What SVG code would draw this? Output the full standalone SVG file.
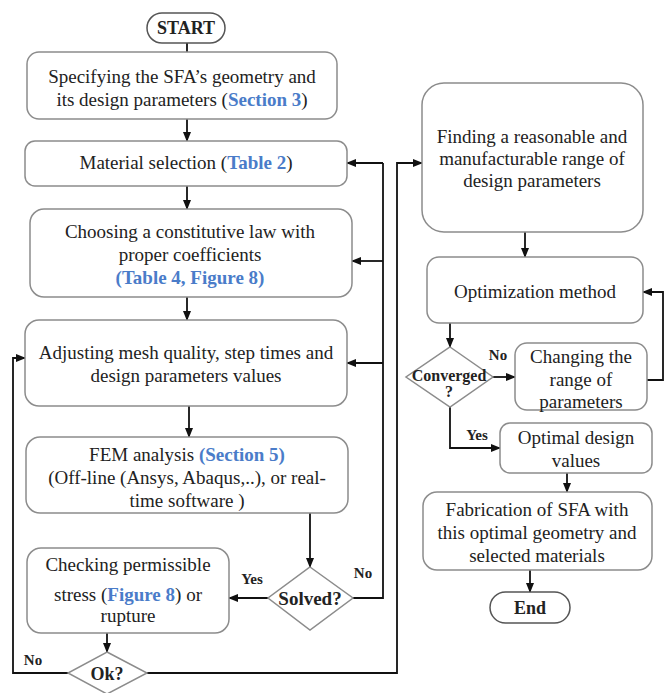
<svg xmlns="http://www.w3.org/2000/svg" width="670" height="693" viewBox="0 0 670 693" font-family="Liberation Serif, DejaVu Serif, serif">
<defs>
<marker id="ah" markerWidth="10" markerHeight="8" refX="9" refY="4" orient="auto" markerUnits="userSpaceOnUse">
<path d="M0,0 L10,4 L0,8 Z" fill="#111"/>
</marker>
<style>
.box{fill:#fff;stroke:#8c8c8c;stroke-width:1.5}
.t{font-size:19px;fill:#222;text-anchor:middle}
.b{font-weight:bold}
.blue{fill:#4a7cc9;font-weight:bold}
.lbl{font-size:15px;font-weight:bold;fill:#222;text-anchor:middle}
.c{fill:none;stroke:#111;stroke-width:1.8}
.ca{fill:none;stroke:#111;stroke-width:1.8;marker-end:url(#ah)}
</style>
</defs>
<rect width="670" height="693" fill="#fff"/>

<g id="connectors">
<line class="c" x1="187" y1="43" x2="187" y2="52"/>
<line class="ca" x1="187" y1="119" x2="187" y2="141"/>
<line class="ca" x1="187" y1="186" x2="187" y2="209"/>
<line class="ca" x1="187" y1="297" x2="187" y2="320"/>
<line class="ca" x1="189" y1="406" x2="189" y2="437"/>
<line class="ca" x1="310" y1="513" x2="310" y2="567"/>
<line class="ca" x1="268" y1="598" x2="229" y2="598"/>
<polyline class="c" points="353,598 383,598 383,163"/>
<line class="ca" x1="383" y1="163" x2="347" y2="163"/>
<line class="ca" x1="383" y1="261" x2="352" y2="261"/>
<line class="ca" x1="383" y1="363" x2="347" y2="363"/>
<line class="ca" x1="107" y1="633" x2="107" y2="652"/>
<polyline class="ca" points="68,673 13,673 13,358 25,358"/>
<polyline class="ca" points="147,673 397,673 397,163 422,163"/>
<line class="ca" x1="525" y1="232" x2="525" y2="257"/>
<line class="ca" x1="450" y1="323" x2="450" y2="347"/>
<line class="ca" x1="493" y1="377" x2="515" y2="377"/>
<polyline class="ca" points="647,380 663,380 663,292 643,292"/>
<polyline class="ca" points="450,407 450,448 500,448"/>
<line class="ca" x1="567" y1="473" x2="567" y2="492"/>
<line class="ca" x1="530" y1="570" x2="530" y2="592"/>
<text class="lbl" x="252" y="584">Yes</text>
<text class="lbl" x="363" y="578">No</text>
<text class="lbl" x="33" y="665">No</text>
<text class="lbl" x="498" y="360">No</text>
<text class="lbl" x="477" y="440">Yes</text>
</g>

<g id="start">
<rect class="box" x="147" y="13" width="78" height="30" rx="15" style="stroke:#555"/>
<text class="t b" x="186" y="34" style="font-size:18px">START</text>
</g>

<g id="geometry">
<rect class="box" x="27" y="52" width="310" height="67" rx="12"/>
<text class="t" x="182" y="83">Specifying the SFA’s geometry and</text>
<text class="t" x="182" y="106">its design parameters (<tspan class="blue">Section 3</tspan>)</text>
</g>

<g id="material">
<rect class="box" x="25" y="141" width="322" height="45" rx="10"/>
<text class="t" x="186" y="169">Material selection (<tspan class="blue">Table 2</tspan>)</text>
</g>

<g id="constitutive">
<rect class="box" x="30" y="209" width="322" height="88" rx="14"/>
<text class="t" x="190" y="238">Choosing a constitutive law with</text>
<text class="t" x="190" y="261">proper coefficients</text>
<text class="t blue" x="190" y="284">(Table 4, Figure 8)</text>
</g>

<g id="mesh">
<rect class="box" x="25" y="320" width="322" height="86" rx="14"/>
<text class="t" x="186" y="359">Adjusting mesh quality, step times and</text>
<text class="t" x="186" y="382">design parameters values</text>
</g>

<g id="fem">
<rect class="box" x="26" y="437" width="322" height="76" rx="14"/>
<text class="t" x="187" y="461">FEM analysis <tspan class="blue">(Section 5)</tspan></text>
<text class="t" x="187" y="484">(Off-line (Ansys, Abaqus,..), or real-</text>
<text class="t" x="187" y="507">time software )</text>
</g>

<g id="solved">
<polygon class="box" points="310,567 353,598 310,630 268,598"/>
<text class="t b" x="310" y="605">Solved?</text>
</g>

<g id="checking">
<rect class="box" x="27" y="548" width="202" height="85" rx="14"/>
<text class="t" x="128" y="571">Checking permissible</text>
<text class="t" x="128" y="601">stress (<tspan class="blue">Figure 8</tspan>) or</text>
<text class="t" x="128" y="622">rupture</text>
</g>

<g id="ok">
<polygon class="box" points="107,652 147,673 107,694 68,673"/>
<text class="t b" x="107" y="680" style="font-size:18px">Ok?</text>
</g>

<g id="finding">
<rect class="box" x="422" y="83" width="221" height="149" rx="22"/>
<text class="t" x="532" y="143">Finding a reasonable and</text>
<text class="t" x="532" y="165">manufacturable range of</text>
<text class="t" x="532" y="187">design parameters</text>
</g>

<g id="optimization">
<rect class="box" x="427" y="257" width="216" height="66" rx="12"/>
<text class="t" x="535" y="298">Optimization method</text>
</g>

<g id="converged">
<polygon class="box" points="450,347 493,377 450,407 406,377"/>
<text class="t b" x="449" y="381" style="font-size:16px">Converged</text>
<text class="t b" x="449" y="397" style="font-size:16px">?</text>
</g>

<g id="changing">
<rect class="box" x="515" y="343" width="132" height="67" rx="12"/>
<text class="t" x="581" y="363">Changing the</text>
<text class="t" x="581" y="386">range of</text>
<text class="t" x="581" y="408">parameters</text>
</g>

<g id="optimal">
<rect class="box" x="500" y="423" width="152" height="50" rx="10"/>
<text class="t" x="576" y="444">Optimal design</text>
<text class="t" x="576" y="467">values</text>
</g>

<g id="fabrication">
<rect class="box" x="423" y="492" width="229" height="78" rx="14"/>
<text class="t" x="537" y="516">Fabrication of  SFA with</text>
<text class="t" x="537" y="539">this optimal geometry and</text>
<text class="t" x="537" y="562">selected materials</text>
</g>

<g id="end">
<rect class="box" x="490" y="592" width="80" height="31" rx="15.5" style="stroke:#555"/>
<text class="t b" x="530" y="614" style="font-size:18px">End</text>
</g>
</svg>
